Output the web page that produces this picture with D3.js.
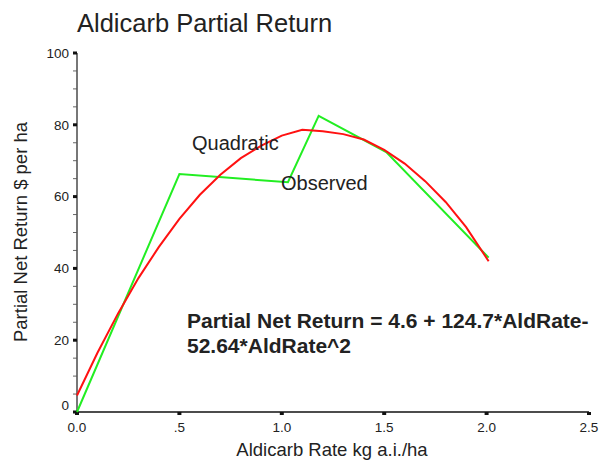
<!DOCTYPE html>
<html>
<head>
	<meta charset="utf-8">
	<title>Aldicarb Partial Return</title>
	<script src="https://d3js.org/d3.v7.min.js"></script>
	<style>
		body { margin: 0; background: #fff; }
		text { font-family: 'Liberation Sans', Arial, sans-serif; fill: #222; }
	</style>
</head>
<body>
	<div class="chart"></div>

	<script type="text/javascript">
		// observed (green)
		const obsRate = [0, 0.5, 1.03, 1.18, 1.51, 2.01]
		const obsReturn = [0, 66.3, 64, 82.5, 72.4, 43]

		// quadratic fit (red)
		const fitRate = [0, 0.1, 0.2, 0.3, 0.4, 0.5, 0.6, 0.7, 0.8, 0.9, 1.0, 1.1, 1.15, 1.2, 1.3, 1.4, 1.5, 1.6, 1.7, 1.8, 1.9, 2.01]
		const fitReturn = [4.6, 16.5, 27.4, 37.3, 46.0, 53.8, 60.5, 66.1, 70.7, 74.2, 77.0, 78.6, 78.4, 78.2, 77.4, 75.9, 73.0, 69.2, 64.3, 58.5, 51.5, 42]

		const xTicks = [0, 0.5, 1.0, 1.5, 2.0, 2.5]
		const xTickLabels = ['0.0', '.5', '1.0', '1.5', '2.0', '2.5']
		const yTicks = [0, 20, 40, 60, 80, 100]
		const yMinorTicks = d3.range(0, 101, 5)

		const title = 'Aldicarb Partial Return'
		const xTitle = 'Aldicarb Rate kg a.i./ha'
		const yTitle = 'Partial Net Return $ per ha'
		const equation = ['Partial Net Return = 4.6 + 124.7*AldRate-', '52.64*AldRate^2']

		const width = 603
		const height = 464
		const margin = { top: 53, right: 14, bottom: 52, left: 77 }

		const svg = d3.select('.chart').append('svg')
			.attr('width', width)
			.attr('height', height)

		const xScale = d3.scaleLinear()
			.domain([0, 2.5])
			.range([margin.left, width - margin.right])

		const yScale = d3.scaleLinear()
			.domain([0, 100])
			.range([height - margin.bottom, margin.top])

		// title
		svg.append('text')
			.attr('x', margin.left)
			.attr('y', 32)
			.attr('font-size', 25.5)
			.text(title)

		// y axis: minor ticks, line, major square ticks
		const yAxis = svg.append('g')
		yAxis.selectAll('line.minor')
			.data(yMinorTicks)
			.join('line')
			.attr('class', 'minor')
			.attr('x1', xScale(0) - 4)
			.attr('x2', xScale(0))
			.attr('y1', d => yScale(d))
			.attr('y2', d => yScale(d))
			.attr('stroke', '#666')
			.attr('stroke-width', 1)
		yAxis.append('line')
			.attr('x1', xScale(0))
			.attr('x2', xScale(0))
			.attr('y1', yScale(100))
			.attr('y2', yScale(0))
			.attr('stroke', '#555')
			.attr('stroke-width', 1.6)
		yAxis.selectAll('rect')
			.data(yTicks)
			.join('rect')
			.attr('x', xScale(0) - 4)
			.attr('y', d => yScale(d) - 1.5)
			.attr('width', 4)
			.attr('height', 3)
			.attr('fill', '#111')
		yAxis.selectAll('text')
			.data(yTicks)
			.join('text')
			.attr('x', xScale(0) - 8)
			.attr('y', d => yScale(d) - (d === 0 ? 7 : 0))
			.attr('dy', '0.35em')
			.attr('text-anchor', 'end')
			.attr('font-size', 13.5)
			.text(d => d)

		// x axis
		const xAxis = svg.append('g')
		xAxis.append('line')
			.attr('x1', xScale(0))
			.attr('x2', xScale(2.5))
			.attr('y1', yScale(0))
			.attr('y2', yScale(0))
			.attr('stroke', '#111')
			.attr('stroke-width', 1.6)
		xAxis.selectAll('rect')
			.data(xTicks)
			.join('rect')
			.attr('x', d => xScale(d) - 2)
			.attr('y', yScale(0))
			.attr('width', 4)
			.attr('height', 3)
			.attr('fill', '#111')
		xAxis.selectAll('text')
			.data(xTicks)
			.join('text')
			.attr('x', d => xScale(d))
			.attr('y', yScale(0) + 20)
			.attr('text-anchor', 'middle')
			.attr('font-size', 13.5)
			.text((d, i) => xTickLabels[i])

		// axis titles
		svg.append('text')
			.attr('x', 332)
			.attr('y', 456)
			.attr('text-anchor', 'middle')
			.attr('font-size', 18.5)
			.text(xTitle)

		svg.append('text')
			.attr('transform', 'translate(27, 232) rotate(-90)')
			.attr('text-anchor', 'middle')
			.attr('font-size', 18.5)
			.text(yTitle)

		const line = d3.line()
			.x(d => xScale(d[0]))
			.y(d => yScale(d[1]))

		svg.append('path')
			.attr('d', line(d3.zip(obsRate, obsReturn)))
			.attr('fill', 'none')
			.attr('stroke', '#22ee22')
			.attr('stroke-width', 2)

		svg.append('path')
			.attr('d', line(d3.zip(fitRate, fitReturn)))
			.attr('fill', 'none')
			.attr('stroke', '#ff1111')
			.attr('stroke-width', 2)

		// series labels
		svg.append('text')
			.attr('x', 192)
			.attr('y', 150)
			.attr('font-size', 20)
			.text('Quadratic')

		svg.append('text')
			.attr('x', 281)
			.attr('y', 190)
			.attr('font-size', 20)
			.text('Observed')

		// equation
		svg.selectAll('text.eq')
			.data(equation)
			.join('text')
			.attr('class', 'eq')
			.attr('x', 187)
			.attr('y', (d, i) => 328 + i * 25)
			.attr('font-size', 21)
			.attr('font-weight', 'bold')
			.text(d => d)
	</script>
</body>
</html>
